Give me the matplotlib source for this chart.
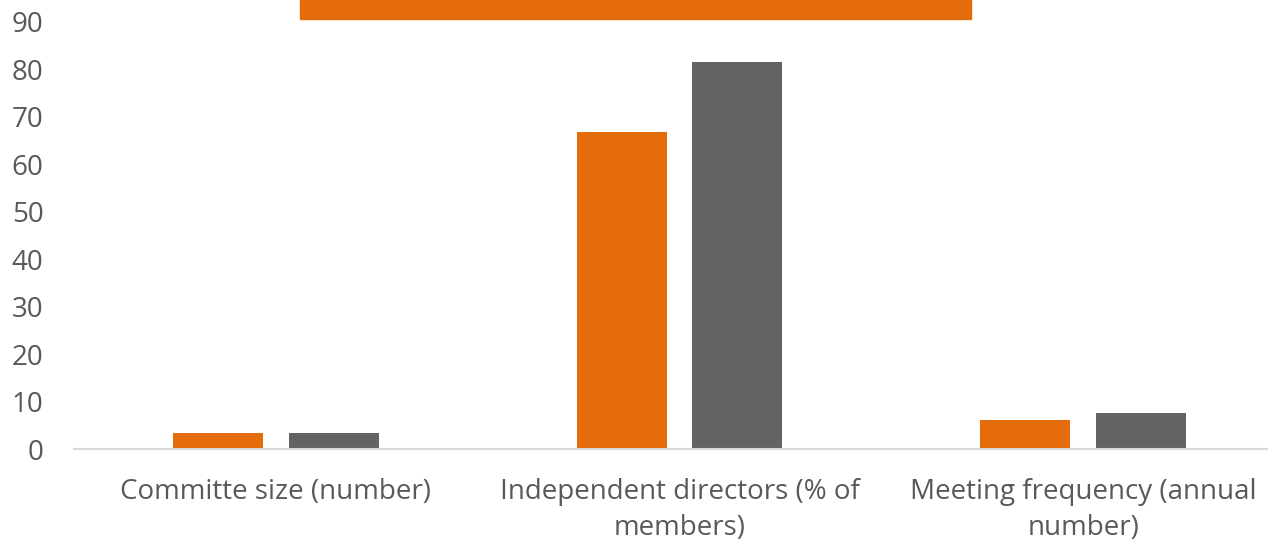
import numpy as np
import matplotlib
matplotlib.use("Agg")
import matplotlib.pyplot as plt
from matplotlib.patches import Rectangle

# data
categories = ["Committe size (number)",
              "Independent directors (% of\nmembers)",
              "Meeting frequency (annual\nnumber)"]
series_a = [3.4, 66.8, 6.1]
series_b = [3.4, 81.6, 7.5]
yticks = [0, 10, 20, 30, 40, 50, 60, 70, 80, 90]

ORANGE = "#E46C0A"
GRAY = "#636363"
TXT = "#595959"

W, H = 1268, 543
fig = plt.figure(figsize=(W / 100, H / 100), dpi=100)

# axes box in pixels: left 74, right ~1285 (runs past the edge), y0 at 449, y90 at 22
left, right, y0, y90 = 74, 1285, 449, 22
ax = fig.add_axes([left / W, (H - y0) / H, (right - left) / W, (y0 - y90) / H])

x = np.arange(len(categories))
bw = 0.223
off = 0.143
ax.bar(x - off, series_a, width=bw, color=ORANGE, zorder=2)
ax.bar(x + off, series_b, width=bw, color=GRAY, zorder=2)

ax.set_xlim(-0.5, 2.5)
ax.set_ylim(0, 90)
ax.set_yticks(yticks)
ax.set_xticks(x)
ax.set_xticklabels(categories, fontsize=20, color=TXT, family="Open Sans",
                   linespacing=1.38)
for lab in ax.get_yticklabels():
    lab.set_fontsize(20)
    lab.set_color(TXT)
    lab.set_family("Open Sans")
ax.tick_params(axis="y", length=0, pad=22)
ax.tick_params(axis="x", length=0, pad=21)

for s in ["top", "right", "left"]:
    ax.spines[s].set_visible(False)
ax.spines["bottom"].set_color("#D9D9D9")
ax.spines["bottom"].set_linewidth(1.5)

# cut-off orange title banner at the top edge
fig.patches.append(Rectangle((300 / W, 1 - 19 / H), (971 - 300) / W, 19 / H + 0.01,
                             transform=fig.transFigure, color=ORANGE, zorder=0))

fig.savefig("out.png", dpi=100)
